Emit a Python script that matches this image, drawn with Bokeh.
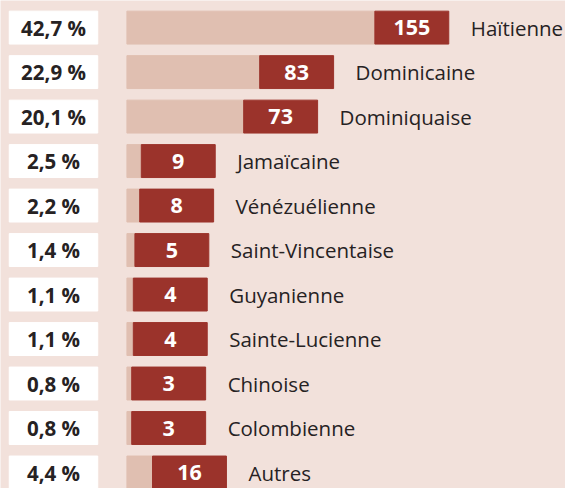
from bokeh.plotting import figure
from bokeh.models import Range1d, ColumnDataSource
from bokeh.core.properties import value
from bokeh.embed import file_html
from bokeh.resources import INLINE

# ---- data ----
names = ["Haïtienne", "Dominicaine", "Dominiquaise", "Jamaïcaine", "Vénézuélienne",
         "Saint-Vincentaise", "Guyanienne", "Sainte-Lucienne", "Chinoise", "Colombienne", "Autres"]
counts = [155, 83, 73, 9, 8, 5, 4, 4, 3, 3, 16]
shares = [42.7, 22.9, 20.1, 2.5, 2.2, 1.4, 1.1, 1.1, 0.8, 0.8, 4.4]

# ---- style / layout ----
BG = "#f2e1db"
LIGHT = "#e0bfb1"
DARK = "#9b332b"
INK = "#262223"
W, H = 565, 488
SX = W / 581
SY = H / 504
S = 1.645 * SX          # px per unit
ZERO = 130 * SX         # canvas x of value 0
TOP = 28 * SY           # canvas y of first row centre
ROW = (472 - TOP) / 10  # px per row (last row kept inside the canvas)
DW = 76 * SX / S        # width of the dark label bar in data units
BH = 34 * SY / ROW      # bar height in data units

x0 = -ZERO / S
x1 = (W - ZERO) / S
box_l = (9 * SX - ZERO) / S
box_r = (100 * SX - ZERO) / S
box_c = (54.5 * SX - ZERO) / S

idx = list(range(len(names)))
src = ColumnDataSource(dict(
    y=idx,
    count=counts,
    dark_r=[c + DW for c in counts],
    mid=[c + DW / 2 for c in counts],
    lab=[str(c) for c in counts],
    name=names,
    pct=[f"{v:.1f}".replace(".", ",") + " %" for v in shares],
))

p = figure(width=W, height=H, x_range=Range1d(x0, x1),
           y_range=Range1d((H - TOP) / ROW, -TOP / ROW),
           output_backend="svg", toolbar_location=None,
           x_axis_location=None, y_axis_location=None, min_border=0,
           background_fill_color=BG, border_fill_color=BG, outline_line_color=None)
p.grid.visible = False

p.hbar(y="y", left=box_l, right=box_r, height=BH, color="white", source=src)
p.hbar(y="y", left=0, right="count", height=BH, color=LIGHT, source=src)
p.hbar(y="y", left="count", right="dark_r", height=BH, color=DARK, source=src)

p.text(x=box_c, y="y", text="pct", source=src, text_font=value("Open Sans"),
       text_font_size="20.5px", text_font_style="bold", text_color=INK,
       text_align="center", text_baseline="middle")
p.text(x="mid", y="y", text="lab", source=src, text_font=value("Open Sans"),
       text_font_size="21.5px", text_font_style="bold", text_color="white",
       text_align="center", text_baseline="middle")
p.text(x="dark_r", y="y", text="name", source=src, text_font=value("Open Sans"),
       text_font_size="20.5px", text_color=INK, x_offset=22,
       text_align="left", text_baseline="middle")

open("out.html", "w").write(file_html(p, INLINE))
